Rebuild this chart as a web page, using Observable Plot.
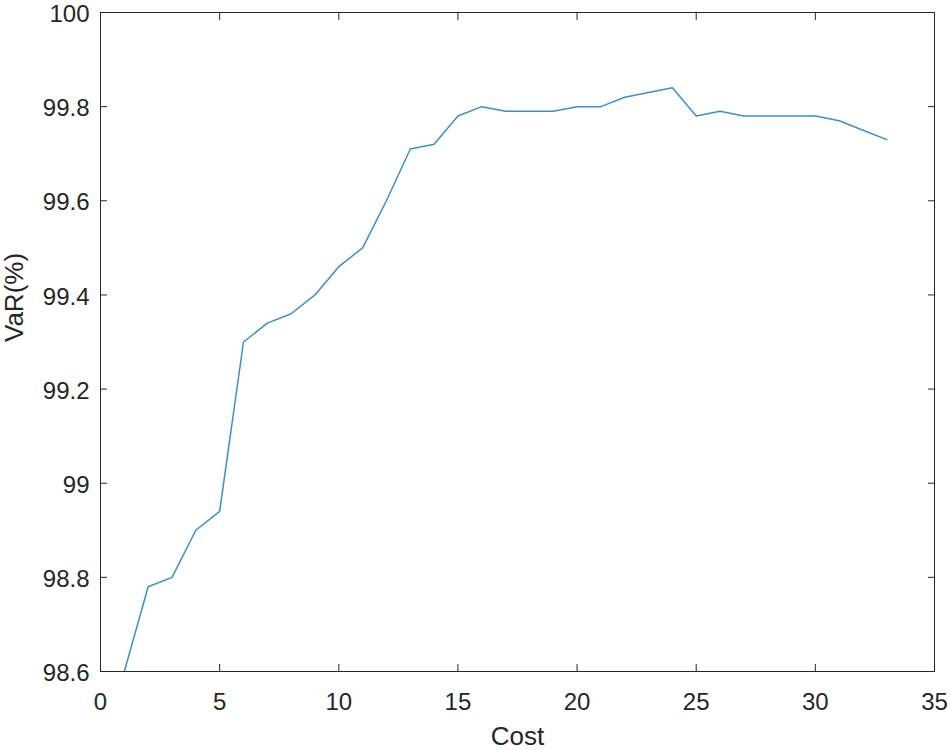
<!DOCTYPE html>
<html>
<head>
<meta charset="utf-8">
<script src="https://cdn.jsdelivr.net/npm/d3@7"></script>
<script src="https://cdn.jsdelivr.net/npm/@observablehq/plot@0.6"></script>
<style>
  html, body { margin: 0; padding: 0; background: #fff; }
</style>
</head>
<body>
<div id="chart"></div>
<script>
const cost = [1,2,3,4,5,6,7,8,9,10,11,12,13,14,15,16,17,18,19,20,21,22,23,24,25,26,27,28,29,30,31,32,33];
const varPct = [98.60,98.78,98.80,98.90,98.94,99.30,99.34,99.36,99.40,99.46,99.50,99.60,99.71,99.72,99.78,99.80,99.79,99.79,99.79,99.80,99.80,99.82,99.83,99.84,99.78,99.79,99.78,99.78,99.78,99.78,99.77,99.75,99.73];
const xTicks = [0,5,10,15,20,25,30,35];
const yTicks = [98.6,98.8,99,99.2,99.4,99.6,99.8,100];
const xLabel = "Cost";
const yLabel = "VaR(%)";

const data = cost.map((c, i) => ({cost: c, v: varPct[i]}));
const axisColor = "#262626";

const chart = Plot.plot({
  width: 951,
  height: 750,
  marginLeft: 100,
  marginRight: 17,
  marginTop: 12,
  marginBottom: 79,
  style: {fontFamily: "'Liberation Sans', Arial, sans-serif", fontSize: "24px", color: axisColor, background: "white", overflow: "visible"},
  x: {domain: [0, 35]},
  y: {domain: [98.6, 100]},
  marks: [
    Plot.frame({stroke: axisColor, strokeWidth: 1}),
    Plot.axisX({anchor: "bottom", ticks: xTicks, tickSize: -7, tickPadding: 28, label: null, stroke: axisColor, fill: axisColor, fontSize: 24}),
    Plot.axisX({anchor: "top", ticks: xTicks, tickSize: -7, tickFormat: () => "", label: null, stroke: axisColor}),
    Plot.axisY({anchor: "left", ticks: yTicks, tickSize: -7, tickFormat: () => "", label: null, stroke: axisColor}),
    Plot.axisY({anchor: "left", ticks: yTicks, tickSize: 0, tickPadding: 11, dy: 2, label: null, fill: axisColor, fontSize: 24, tickFormat: d => d3.format("")(+d.toFixed(1))}),
    Plot.axisY({anchor: "right", ticks: yTicks, tickSize: -7, tickFormat: () => "", label: null, stroke: axisColor}),
    Plot.line(data, {x: "cost", y: "v", stroke: "#3a8fd0", strokeWidth: 1.5, clip: true}),
    Plot.text([xLabel], {frameAnchor: "bottom", dy: 65, text: d => d, fill: axisColor, fontSize: 26, lineAnchor: "middle"}),
    Plot.text([yLabel], {frameAnchor: "left", dx: -86, rotate: -90, text: d => d, fill: axisColor, fontSize: 26, lineAnchor: "middle"})
  ]
});
document.getElementById("chart").appendChild(chart);
</script>
</body>
</html>
